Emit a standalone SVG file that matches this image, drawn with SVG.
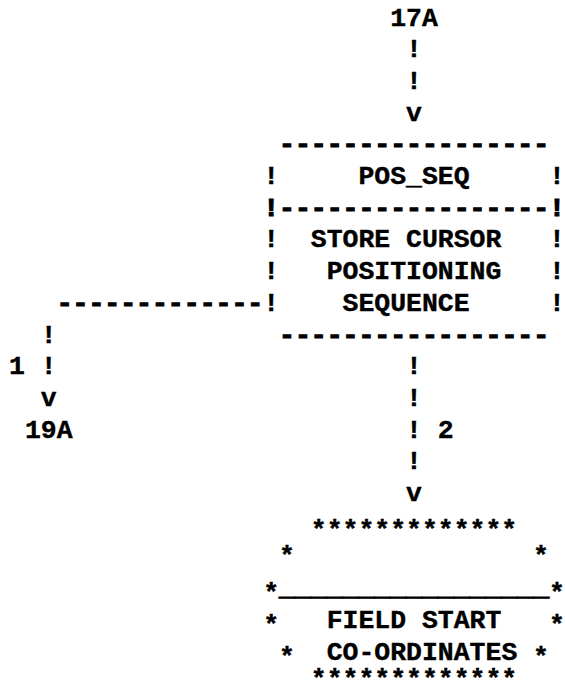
<svg xmlns="http://www.w3.org/2000/svg" width="565" height="695" viewBox="0 0 565 695">
<style>
text { font-family: "Liberation Mono", "DejaVu Sans Mono", monospace; font-size: 26.47px; font-weight: bold; fill: #000; stroke: #000; stroke-width: 0.4px; }
text.rule { stroke-width: 1.2px; }
</style>
<rect width="565" height="695" fill="#fff"/>
<g id="ref-17A">
  <text x="390.18" y="25.5">17A</text>
</g>
<g id="ref-19A">
  <text x="24.94" y="437.6">19A</text>
</g>
<g id="connectors">
  <text x="406.06" y="57.2">!</text>
  <text x="406.06" y="88.9">!</text>
  <text x="406.06" y="120.6">v</text>
  <text class="rule" x="56.70" y="310.8">-------------</text>
  <text x="40.82" y="342.5">!</text>
  <text x="9.06" y="374.2">1</text>
  <text x="40.82" y="374.2">!</text>
  <text x="40.82" y="405.9">v</text>
  <text x="406.06" y="374.2">!</text>
  <text x="406.06" y="405.9">!</text>
  <text x="406.06" y="437.6">!</text>
  <text x="437.82" y="437.6">2</text>
  <text x="406.06" y="469.3">!</text>
  <text x="406.06" y="501">v</text>
</g>
<g id="pos_seq">
  <text class="rule" x="279.02" y="152.3">-----------------</text>
  <text x="263.14" y="184">!</text>
  <text x="358.42" y="184">POS_SEQ</text>
  <text x="548.98" y="184">!</text>
  <text class="rule" x="263.14" y="215.7">!-----------------!</text>
  <text x="263.14" y="247.4">!</text>
  <text x="310.78" y="247.4">STORE CURSOR</text>
  <text x="548.98" y="247.4">!</text>
  <text x="263.14" y="279.1">!</text>
  <text x="326.66" y="279.1">POSITIONING</text>
  <text x="548.98" y="279.1">!</text>
  <text x="263.14" y="310.8">!</text>
  <text x="342.54" y="310.8">SEQUENCE</text>
  <text x="548.98" y="310.8">!</text>
  <text class="rule" x="279.02" y="342.5">-----------------</text>
</g>
<g id="field_start">
  <text x="279.02" y="564.4">*</text>
  <text x="533.10" y="564.4">*</text>
  <g transform="translate(0,5)">
    <text x="310.78" y="532.7">*************</text>
    <text x="263.14" y="596.1">*</text>
    <text x="548.98" y="596.1">*</text>
    <text x="263.14" y="627.8">*</text>
    <text x="548.98" y="627.8">*</text>
    <text x="279.02" y="659.5">*</text>
    <text x="533.10" y="659.5">*</text>
  </g>
  <text x="310.78" y="687">*************</text>
  <text class="rule" x="279.02" y="594.6">_________________</text>
  <text x="326.66" y="627.8">FIELD START</text>
  <text x="326.66" y="659.5">CO-ORDINATES</text>
</g>
</svg>
